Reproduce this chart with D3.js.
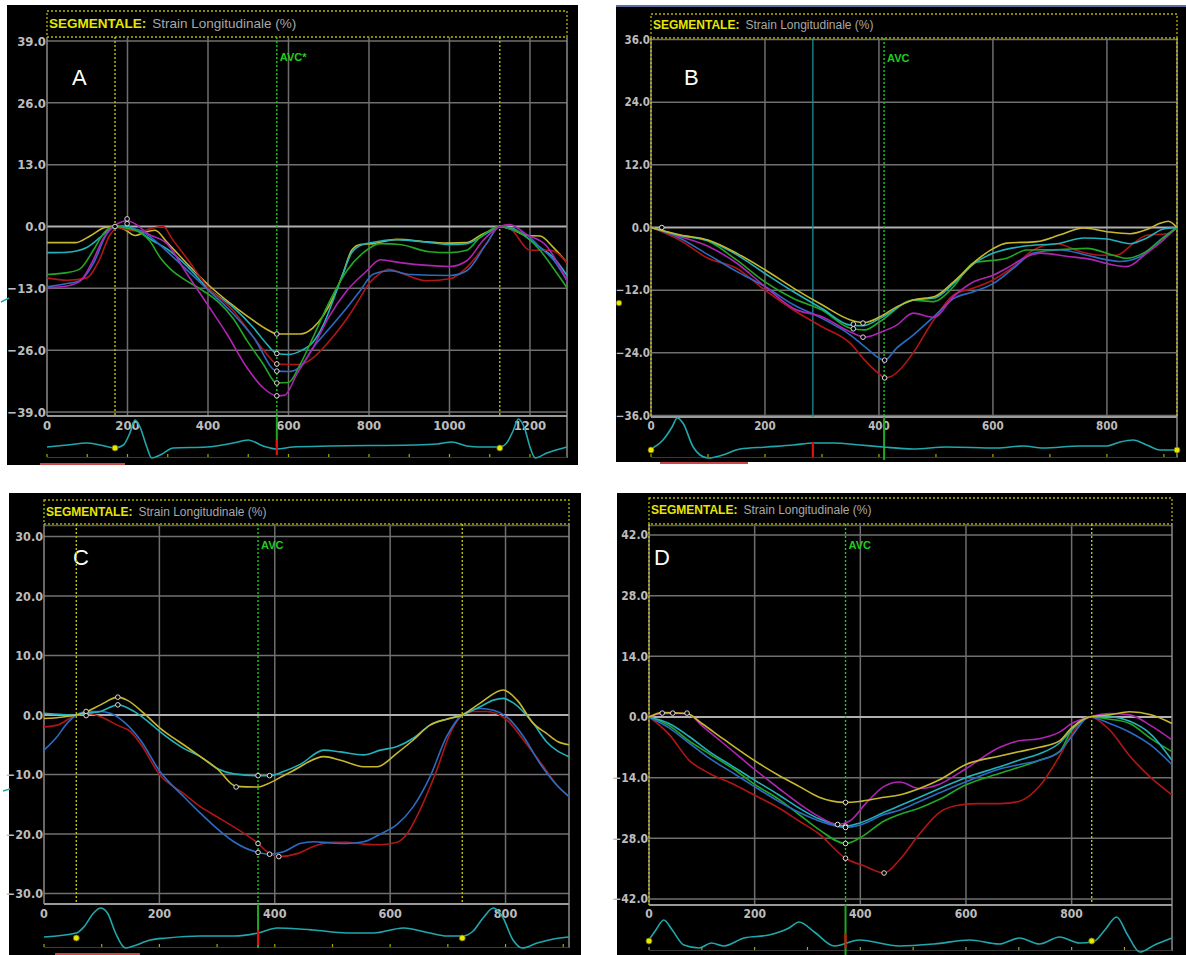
<!DOCTYPE html>
<html>
<head>
<meta charset="utf-8">
<script src="https://cdn.jsdelivr.net/npm/d3@7"></script>
<style>
  html, body { margin: 0; padding: 0; background: #fff; }
  svg { display: block; }
</style>
</head>
<body>
<svg id="chart" width="1186" height="955"></svg>
<script>
// ---------- Panel A: segmental longitudinal strain (%) vs time (ms) ----------
const aXTicks = [0, 200, 400, 600, 800, 1000, 1200];
const aYTicks = [-39, -26, -13, 0, 13, 26, 39];
const aYellow = [[0,-3.4],[70,-3.4],[107,-2],[144,-0.2],[169,0],[194,-0.7],[219,-1.9],[243,-1.2],[268,-0.8],[300,-3.5],[350,-8],[400,-12.2],[450,-15.8],[500,-19],[550,-21.8],[571,-22.6],[629,-22.6],[661,-21.3],[686,-18.8],[711,-15],[735,-10],[757,-5],[778,-3.8],[811,-3.6],[869,-2.7],[944,-3.2],[1001,-3.5],[1043,-3.4],[1076,-1.9],[1109,-0.5],[1125,0],[1159,-0.8],[1192,-1.9],[1225,-2],[1258,-4.4],[1292,-7.6]];
const aCyan = [[0,-5.5],[50,-5.4],[99,-4.4],[132,-2.3],[157,-0.5],[169,0],[199,0],[231,-1.2],[263,-3],[298,-4.7],[350,-8.5],[397,-12.8],[463,-17],[513,-21.3],[546,-24.7],[571,-26.7],[600,-26.9],[629,-26.2],[661,-24.3],[686,-20.8],[711,-15.5],[735,-10],[757,-5.5],[778,-4],[811,-3.3],[869,-2.8],[944,-3.3],[1001,-3.8],[1043,-3.6],[1076,-2.3],[1109,-0.6],[1125,0],[1159,-0.5],[1192,-2.3],[1225,-4.4],[1258,-6.5],[1292,-10.3]];
const aRed = [[0,-10.8],[50,-11.3],[99,-10.8],[130,-7],[155,-2],[175,-0.2],[200,-0.7],[230,-1],[260,-0.4],[289,0],[310,-2.5],[350,-7],[397,-12.5],[463,-17.7],[513,-23.3],[546,-26.8],[571,-28.9],[600,-29],[629,-29],[661,-27.6],[716,-22.6],[753,-18.4],[778,-15],[800,-12],[825,-10],[850,-9],[877,-9.7],[944,-11.4],[1001,-11],[1043,-8.6],[1092,-3.6],[1125,0],[1150,-0.4],[1200,-5],[1250,-5],[1292,-7.6]];
const aBlue = [[0,-12.7],[50,-12],[82,-11.4],[115,-7.8],[149,-1.5],[169,0],[199,-0.3],[231,-0.8],[263,-2.6],[314,-6.5],[397,-13.1],[463,-18.4],[513,-23.3],[571,-30.4],[600,-30.5],[629,-29.5],[661,-25.5],[703,-21.3],[745,-17.1],[778,-13.5],[811,-10],[853,-9.3],[903,-10.1],[1001,-10.3],[1043,-9.3],[1092,-3.6],[1125,0],[1159,-0.8],[1192,-1.7],[1225,-4.4],[1258,-7],[1292,-11.4]];
const aGreen = [[0,-10.1],[50,-9.7],[82,-8.9],[115,-5],[140,-1.5],[155,-0.3],[169,0],[200,-0.4],[231,-1.2],[255,-3],[281,-6.5],[306,-8.9],[339,-11],[380,-13.1],[422,-15.6],[463,-19.4],[497,-24],[537,-28.9],[571,-32.9],[600,-32.8],[629,-29],[661,-23.3],[703,-15.6],[745,-9.3],[786,-5.5],[828,-3.6],[877,-3.8],[950,-5.3],[1001,-5.5],[1043,-5],[1076,-2.3],[1125,0],[1175,-1.3],[1225,-5],[1260,-9],[1292,-12.9]];
const aMagenta = [[0,-12.9],[50,-12.5],[82,-11.5],[115,-7],[140,-2.5],[160,-0.3],[180,0.8],[199,1.2],[220,0.5],[250,-1.5],[298,-3.6],[348,-10],[397,-16.2],[447,-22.6],[497,-29.7],[537,-33.9],[571,-35.6],[590,-35.5],[621,-31],[661,-25.5],[699,-19.2],[745,-13.5],[795,-9.3],[828,-7],[877,-7.6],[1001,-8.4],[1043,-7.2],[1083,-3],[1125,0],[1150,0.4],[1192,-1.7],[1240,-4],[1292,-11.4]];
const aMarkers = [[169,0],[199,1.6],[199,0.6],[571,-22.6],[571,-26.7],[571,-28.9],[571,-30.4],[571,-32.9],[571,-35.6]];
const aEvents = { yellow: [169, 1125], avc: 571, avcLabel: "AVC*", mark: 571 };
const aEcg = [[0,0],[50,0.2],[99,0.4],[132,0.2],[169,-0.1],[190,0.2],[206,1.4],[219,2.7],[231,2.0],[248,0],[260,-1.1],[281,-0.8],[314,-0.1],[397,0],[463,0.4],[500,0.7],[537,0.1],[571,-0.2],[611,0],[703,0.1],[910,0.2],[969,0.3],[1006,0.5],[1043,0.1],[1076,0],[1125,0],[1142,0.4],[1159,1.7],[1171,2.8],[1188,1.7],[1200,0],[1213,-1.1],[1242,-0.6],[1292,0]];

// ---------- Panel B ----------
const bXTicks = [0, 200, 400, 600, 800];
const bYTicks = [-36, -24, -12, 0, 12, 24, 36];
const bYellow = [[0,0],[50,-1.4],[100,-2.4],[150,-4.9],[200,-8.1],[250,-11.6],[300,-14.8],[350,-17.7],[375,-18.2],[402,-17.1],[431,-15.2],[460,-13.9],[498,-13.2],[531,-10.4],[572,-6.2],[601,-4],[624,-3],[677,-2.7],[718,-1.4],[759,-0.1],[800,-0.8],[841,-1.2],[870,-0.4],[893,0.8],[908,1.2],[923,0]];
const bCyan = [[0,0],[50,-1.5],[100,-2.5],[150,-5.2],[200,-8.8],[250,-12.3],[300,-15.5],[350,-18.7],[372,-18.8],[402,-17.4],[460,-13.9],[498,-13.5],[531,-10.7],[572,-6.5],[601,-4.9],[653,-3.6],[718,-3],[759,-2],[800,-2.2],[841,-3.1],[870,-2],[899,-0.3],[923,0]];
const bGreen = [[0,0],[50,-1.5],[100,-2.6],[150,-6.2],[200,-10.4],[250,-13.6],[300,-15.8],[350,-19.3],[375,-19.6],[402,-18],[460,-13.9],[496,-14.2],[531,-11.3],[566,-6.8],[624,-5.9],[659,-4.3],[718,-4.2],[765,-4],[811,-5.3],[835,-5.9],[864,-4.9],[899,-2],[923,0]];
const bMagenta = [[0,0],[50,-1.7],[100,-3.6],[150,-6.8],[200,-11.3],[250,-15.5],[300,-17.1],[350,-20],[375,-21],[402,-20.1],[431,-18.7],[460,-16.4],[496,-17.2],[531,-13.2],[566,-10.4],[601,-9.1],[624,-7.8],[659,-5.6],[683,-4.9],[729,-5.5],[776,-6.2],[800,-6.9],[835,-7.5],[870,-4.9],[899,-2.4],[923,0]];
const bBlue = [[0,0],[50,-2],[100,-5.2],[150,-8.4],[200,-11.3],[250,-14.8],[300,-17.4],[350,-20.6],[375,-22.8],[410,-25.4],[431,-23.1],[460,-20.6],[496,-17.1],[531,-13.6],[566,-12.3],[601,-10.7],[636,-7.8],[671,-4.9],[718,-4.3],[765,-5.3],[800,-6.2],[823,-6.5],[858,-5.6],[893,-2.4],[923,0]];
const bRed = [[0,0],[50,-2.4],[100,-5.9],[150,-7.8],[200,-12],[250,-15.8],[300,-19],[350,-22.2],[375,-25.4],[400,-28],[410,-28.8],[420,-28.6],[437,-27.2],[460,-24],[496,-17.7],[531,-12.9],[566,-11.6],[601,-10],[636,-7.5],[671,-4.3],[712,-3.1],[753,-4.6],[788,-5.3],[817,-5.3],[846,-3.1],[870,-1.5],[905,-1.2],[923,0]];
const bMarkers = [[19,0],[355,-19.4],[355,-18.5],[372,-18.3],[372,-21],[410,-25.4],[410,-28.8]];
const bEvents = { yellow: [0, 923], avc: 409, avcLabel: "AVC", mark: 284, teal: 284 };
const bEcg = [[0,0],[21,0.9],[37,2.2],[46,3.1],[56,2.6],[74,0.2],[86,-0.6],[100,-0.9],[126,-0.6],[156,0],[203,0.2],[250,0.4],[285,0.6],[320,0.6],[367,0.4],[407,0.2],[460,0],[519,0.2],[607,0.1],[653,0.3],[688,0.1],[753,0.3],[800,0.3],[823,0.7],[846,0.9],[870,0.4],[893,-0.1],[923,-0.1]];

// ---------- Panel C ----------
const cXTicks = [0, 200, 400, 600, 800];
const cYTicks = [-30, -20, -10, 0, 10, 20, 30];
const cYellow = [[0,-0.6],[56,0],[75,0.6],[98,1.7],[128,3.0],[144,2.5],[173,0.3],[201,-2.2],[225,-3.9],[242,-5],[271,-7],[300,-9],[333,-12],[371,-12.1],[387,-11.6],[415,-10.2],[444,-8.7],[456,-8],[485,-7],[514,-7.6],[554,-8.7],[577,-8.7],[612,-6.4],[640,-4.2],[669,-1.7],[698,-0.7],[725,0],[756,2],[796,4.2],[820,2.5],[848,-1.4],[871,-3.1],[891,-4.5],[910,-5]];
const cCyan = [[0,0.3],[56,0],[75,0.3],[98,0.6],[128,1.7],[156,0.6],[184,-1.4],[201,-2.8],[242,-5.6],[271,-7],[300,-9],[329,-9.9],[371,-10.2],[391,-10.2],[415,-9.5],[444,-8.3],[485,-5.9],[514,-6.2],[554,-6.7],[583,-5.9],[612,-5.3],[640,-3.9],[669,-1.7],[698,-0.7],[725,0],[756,1.4],[779,2.5],[796,2.8],[814,2],[848,-1.4],[871,-4.5],[910,-7]];
const cRed = [[0,-2],[23,-1.7],[56,0],[75,0.3],[98,-0.3],[127,-1.7],[150,-2.8],[167,-4.8],[201,-10.1],[242,-13.2],[271,-15.4],[300,-17.1],[329,-18.8],[371,-21.6],[387,-23],[407,-23.8],[439,-23.3],[467,-22.1],[496,-21.4],[525,-21.4],[554,-21.7],[583,-21.8],[612,-21.4],[629,-20],[652,-15.9],[681,-9.2],[704,-3.1],[725,0],[744,0.6],[767,0.6],[802,-0.8],[831,-4.2],[866,-8.7],[889,-11.8],[910,-13.7]];
const cBlue = [[0,-5.9],[23,-3.6],[40,-1.4],[56,0],[75,0.6],[98,0.6],[115,0.3],[138,-1.1],[167,-4.2],[201,-9.5],[242,-13.7],[271,-16.5],[300,-19.1],[329,-21.3],[371,-23.1],[391,-23.4],[415,-23],[444,-21.6],[467,-21.3],[496,-21.5],[525,-21.6],[554,-21.3],[583,-20],[612,-18.4],[640,-15.4],[669,-10.4],[698,-3.6],[725,0],[756,1.1],[779,0.8],[802,-0.3],[831,-3.6],[860,-8.2],[889,-11.8],[910,-13.7]];
const cMarkers = [[73,0.6],[73,-0.1],[128,3.0],[128,1.7],[333,-12.1],[371,-10.2],[391,-10.2],[371,-21.6],[371,-23.1],[391,-23.4],[407,-23.8]];
const cEvents = { yellow: [56, 725], avc: 371, avcLabel: "AVC", mark: 371 };
const cEcg = [[0,0],[56,0.4],[69,1],[86,2.4],[98,2.9],[110,2.4],[124,0.4],[141,-1.1],[155,-0.9],[184,-0.3],[213,-0.1],[271,0.1],[329,0.1],[371,0.4],[404,0.9],[444,0.8],[467,0.7],[525,0.4],[571,0.4],[623,0.9],[669,0.4],[698,0.1],[725,0.1],[744,0.6],[761,1.9],[779,2.9],[794,2.1],[813,-0.3],[829,-1.1],[855,-0.6],[883,-0.2],[910,0]];

// ---------- Panel D ----------
const dXTicks = [0, 200, 400, 600, 800];
const dYTicks = [-42, -28, -14, 0, 14, 28, 42];
const dYellow = [[0,0],[25,1],[72,0.8],[100,-1.5],[140,-5],[199,-10],[246,-13.5],[284,-16],[322,-18.5],[372,-19.7],[398,-19.5],[445,-18.5],[474,-18],[512,-16.5],[550,-14.5],[599,-11],[664,-9],[700,-8],[739,-7],[777,-5.5],[800,-2.5],[834,0],[872,0.5],[910,1.2],[950,0.5],[990,-1.5]];
const dCyan = [[0,0],[38,-1.5],[76,-4.5],[114,-8],[160,-11.5],[199,-14.5],[246,-18],[284,-21],[322,-23.5],[372,-25.2],[398,-24.5],[445,-22],[474,-20.5],[512,-18.5],[550,-16.5],[599,-14],[664,-11.5],[700,-10],[739,-8.5],[777,-6],[800,-3],[834,0],[872,0],[910,-1],[950,-4],[990,-10]];
const dRed = [[0,0],[38,-4],[76,-10],[114,-13],[160,-15.5],[199,-18],[246,-21],[284,-24],[322,-27],[372,-32.6],[410,-34.5],[445,-36],[474,-33],[512,-27],[550,-22],[580,-20.5],[620,-20],[664,-20],[700,-19.5],[739,-16],[777,-9],[800,-4],[834,0],[872,-3],[910,-9],[950,-14],[990,-18]];
const dBlue = [[0,0],[38,-2.5],[76,-6],[114,-9.5],[160,-13],[199,-16],[246,-19.5],[284,-22],[322,-24],[372,-25.5],[398,-25],[445,-22.5],[474,-21.5],[512,-19.5],[550,-17.5],[599,-15],[664,-12],[700,-11],[739,-10],[777,-8],[800,-4.5],[834,0],[872,-1.5],[910,-3.5],[950,-6.5],[990,-11]];
const dGreen = [[0,0],[38,-2],[76,-5.5],[114,-8.5],[160,-12],[199,-15.5],[246,-19],[284,-22.5],[322,-26],[372,-29.2],[398,-28],[445,-24],[474,-22.5],[512,-21],[550,-19],[599,-15.7],[664,-13],[739,-10],[777,-8],[800,-3],[834,0],[872,-0.5],[910,-1.5],[950,-5],[990,-8]];
const dMagenta = [[0,0],[25,0.8],[72,0.8],[100,-2],[140,-6],[199,-12],[246,-16.5],[284,-20],[322,-23],[357,-24.8],[380,-24],[410,-20],[445,-16],[474,-15],[512,-16.5],[550,-15.5],[599,-12],[664,-7],[700,-5.5],[739,-5],[777,-3.5],[800,-1.5],[834,0],[872,0.8],[910,0.5],[950,-2],[990,-5.3]];
const dMarkers = [[25,0.9],[45,0.9],[72,0.9],[372,-19.7],[357,-24.8],[372,-25.2],[372,-25.5],[372,-29.2],[372,-32.6],[445,-36]];
const dEvents = { yellow: [0, 838], avc: 372, avcLabel: "AVC", mark: 372 };
const dEcg = [[0,0],[13,1],[28,2],[44,1],[66,-0.5],[95,-0.8],[118,-0.3],[142,-0.6],[180,0.2],[227,0.5],[265,1.2],[284,1.8],[313,0.8],[351,-0.6],[398,0],[474,-0.6],[540,-0.4],[607,0],[663,-0.4],[701,0.2],[739,-0.4],[777,0.3],[815,-0.3],[840,-0.2],[863,1],[885,2.3],[906,0.5],[929,-1.2],[957,-0.5],[990,0.2]];

// ---------- styling ----------
const SEG = { yellow: "#c6b82c", cyan: "#22b2ba", red: "#b01616", blue: "#2a6cc4", green: "#22a824", magenta: "#b024b4" };
const TICK_FONT = "'Liberation Sans Narrow','DejaVu Sans Condensed','Liberation Sans',sans-serif";
const TEXT_FONT = "'Liberation Sans',Arial,sans-serif";

const svg = d3.select("#chart");
svg.append("rect").attr("width", 1186).attr("height", 955).attr("fill", "#fff");

function drawPanel(p) {
  const g = svg.append("g");
  const x = d3.scaleLinear().domain([0, p.xMax]).range([p.left, p.right]);
  const y = d3.scaleLinear().domain([-p.yMax, p.yMax]).range([p.yBot, p.yTop]);
  const ecgY = d3.scaleLinear().domain([0, 1]).range([p.ecgBase, p.ecgBase - 10]);

  g.append("rect").attr("x", p.box[0]).attr("y", p.box[1]).attr("width", p.box[2]).attr("height", p.box[3]).attr("fill", "#000");
  if (p.topLine) g.append("rect").attr("x", p.box[0]).attr("y", p.box[1]).attr("width", p.box[2]).attr("height", 2).attr("fill", p.topLine);

  // header box
  g.append("rect").attr("x", p.left).attr("y", p.headTop).attr("width", p.right - p.left).attr("height", p.headBot - p.headTop)
    .attr("fill", "none").attr("stroke", "#b4b400").attr("stroke-width", 1.3).attr("stroke-dasharray", "2,2");
  const ht = g.append("text").attr("x", p.left + 2).attr("y", p.headBase).attr("font-family", TEXT_FONT).attr("font-size", p.headSize);
  ht.append("tspan").attr("fill", "#e6e600").attr("font-weight", "bold").text("SEGMENTALE:");
  ht.append("tspan").attr("fill", "#a8a8a8").attr("dx", 6).text("Strain Longitudinale (%)");

  // grid
  g.selectAll(".vg").data(p.xTicks.filter(t => t > 0)).join("line")
    .attr("x1", d => x(d)).attr("x2", d => x(d)).attr("y1", p.headBot).attr("y2", p.axisY)
    .attr("stroke", "#6e6e6e").attr("stroke-width", 1.5);
  g.selectAll(".hg").data(p.yTicks).join("line")
    .attr("x1", p.left).attr("x2", p.right).attr("y1", d => y(d)).attr("y2", d => y(d))
    .attr("stroke", d => d === 0 ? "#b0b0b0" : "#707070").attr("stroke-width", d => d === 0 ? 2 : 1.5);
  if (p.plotTopLine) g.append("line").attr("x1", p.left).attr("x2", p.right).attr("y1", p.headBot + 1.5).attr("y2", p.headBot + 1.5).attr("stroke", "#5a5a5a").attr("stroke-width", 1.5);
  // frame
  g.append("line").attr("x1", p.left).attr("x2", p.left).attr("y1", p.headBot).attr("y2", p.axisY).attr("stroke", "#8a8a8a").attr("stroke-width", 1.5);
  g.append("line").attr("x1", p.right).attr("x2", p.right).attr("y1", p.headBot).attr("y2", p.ecgTickY + 1).attr("stroke", "#8a8a8a").attr("stroke-width", 1.5);
  g.append("line").attr("x1", p.left).attr("x2", p.right).attr("y1", p.axisY).attr("y2", p.axisY).attr("stroke", "#9a9a9a").attr("stroke-width", 2);

  // tick labels
  g.selectAll(".yl").data(p.yTicks).join("text")
    .attr("x", p.left - 1).attr("y", d => y(d)).attr("dy", "0.36em").attr("text-anchor", "end")
    .attr("font-family", TICK_FONT).attr("font-weight", "bold").attr("font-size", p.tickSize).attr("fill", "#bcbcbc")
    .text(d => d3.format(".1f")(d));
  g.selectAll(".xl").data(p.xTicks).join("text")
    .attr("x", d => x(d)).attr("y", p.axisY + 9).attr("dy", "0.36em").attr("text-anchor", "middle")
    .attr("font-family", TICK_FONT).attr("font-weight", "bold").attr("font-size", p.tickSize).attr("fill", "#bcbcbc")
    .text(d => d);

  // panel letter
  g.append("text").attr("x", p.letterX).attr("y", p.letterY).attr("font-family", TEXT_FONT).attr("font-size", 22).attr("fill", "#fff").text(p.letter);

  // event lines
  const ev = p.events;
  if (ev.teal !== undefined) g.append("line").attr("x1", x(ev.teal)).attr("x2", x(ev.teal)).attr("y1", p.headBot).attr("y2", p.axisY).attr("stroke", "#1c8c92").attr("stroke-width", 1.3);
  g.selectAll(".ye").data(ev.yellow).join("line")
    .attr("x1", d => x(d)).attr("x2", d => x(d)).attr("y1", p.headBot).attr("y2", p.axisY)
    .attr("stroke", "#c0c000").attr("stroke-width", 1.4).attr("stroke-dasharray", "2,2");
  g.append("line").attr("x1", x(ev.avc)).attr("x2", x(ev.avc)).attr("y1", p.headBot).attr("y2", p.axisY)
    .attr("stroke", "#1ec81e").attr("stroke-width", 1.4).attr("stroke-dasharray", "2,2");
  g.append("text").attr("x", x(ev.avc) + 3).attr("y", p.avcY).attr("font-family", TEXT_FONT).attr("font-weight", "bold")
    .attr("font-size", 11).attr("fill", "#20cc20").text(ev.avcLabel);

  // strain curves
  const clipId = "clip" + p.letter;
  svg.append("clipPath").attr("id", clipId).append("rect")
    .attr("x", p.left).attr("y", p.headBot).attr("width", p.right - p.left + 1).attr("height", p.axisY - p.headBot);
  const line = d3.line().x(d => x(d[0])).y(d => y(d[1])).curve(d3.curveMonotoneX);
  const cg = g.append("g").attr("clip-path", `url(#${clipId})`);
  p.curves.forEach(c => {
    cg.append("path").datum(c.data).attr("d", line).attr("fill", "none").attr("stroke", SEG[c.color]).attr("stroke-width", 1.6);
  });
  cg.selectAll(".mk").data(p.markers).join("circle")
    .attr("cx", d => x(d[0])).attr("cy", d => y(d[1])).attr("r", 2.3)
    .attr("fill", "#000").attr("stroke", "#dcdcdc").attr("stroke-width", 1);

  // ECG strip
  const ticks = d3.range(0, p.xMax + 1, 100);
  g.selectAll(".et").data(ticks).join("line")
    .attr("x1", d => x(d)).attr("x2", d => x(d)).attr("y1", p.ecgTickY - 3).attr("y2", p.ecgTickY)
    .attr("stroke", "#a8a800").attr("stroke-width", 1.2);
  g.append("line").attr("x1", p.left).attr("x2", p.right).attr("y1", p.ecgTickY + 0.5).attr("y2", p.ecgTickY + 0.5).attr("stroke", "#3a3a3a").attr("stroke-width", 1);
  g.append("line").attr("x1", x(ev.avc)).attr("x2", x(ev.avc)).attr("y1", p.axisY).attr("y2", p.ecgGreenEnd)
    .attr("stroke", "#1eaa1e").attr("stroke-width", 2);
  const ecgLine = d3.line().x(d => x(d[0])).y(d => ecgY(d[1])).curve(d3.curveMonotoneX);
  g.append("path").datum(p.ecg).attr("d", ecgLine).attr("fill", "none").attr("stroke", "#1fa8ae").attr("stroke-width", 1.6);
  g.append("line").attr("x1", x(ev.mark)).attr("x2", x(ev.mark)).attr("y1", p.ecgBase - 7).attr("y2", p.ecgBase + 8)
    .attr("stroke", "#e01010").attr("stroke-width", 2.2);
  g.selectAll(".ed").data(ev.yellow).join("circle")
    .attr("cx", d => x(d)).attr("cy", d => ecgY(0) + 1).attr("r", 3)
    .attr("fill", "#e8e800").attr("stroke", "#6a6a00").attr("stroke-width", 0.8);

  if (p.redBar) g.append("rect").attr("x", p.redBar[0]).attr("y", p.redBar[1]).attr("width", p.redBar[2]).attr("height", 2).attr("fill", "#c84848");
}

const panels = [
  { letter: "A", box: [7, 5, 571, 460], left: 47, right: 567, xMax: 1292, yMax: 39, yTop: 41, yBot: 412,
    headTop: 11, headBot: 37, headBase: 28, headSize: 13.5, axisY: 416, tickSize: 13, letterX: 72, letterY: 85, avcY: 61,
    ecgBase: 447, ecgTickY: 457, ecgGreenEnd: 446, redBar: [40, 463, 85], plotTopLine: false,
    xTicks: aXTicks, yTicks: aYTicks, events: aEvents, markers: aMarkers, ecg: aEcg,
    curves: [{color:"yellow",data:aYellow},{color:"cyan",data:aCyan},{color:"red",data:aRed},{color:"blue",data:aBlue},{color:"green",data:aGreen},{color:"magenta",data:aMagenta}] },
  { letter: "B", box: [616, 5, 570, 457], left: 651, right: 1177, xMax: 923, yMax: 36, yTop: 39.5, yBot: 415.5,
    headTop: 14, headBot: 38, headBase: 29, headSize: 12, axisY: 417, tickSize: 11.5, letterX: 684, letterY: 85, avcY: 62,
    ecgBase: 449, ecgTickY: 457, ecgGreenEnd: 460, redBar: [660, 462, 88], topLine: "#5a6fa0",
    xTicks: bXTicks, yTicks: bYTicks, events: bEvents, markers: bMarkers, ecg: bEcg,
    curves: [{color:"red",data:bRed},{color:"blue",data:bBlue},{color:"magenta",data:bMagenta},{color:"green",data:bGreen},{color:"cyan",data:bCyan},{color:"yellow",data:bYellow}] },
  { letter: "C", box: [9, 493, 572, 462], left: 44, right: 569, xMax: 910, yMax: 30, yTop: 536.5, yBot: 893.5,
    headTop: 500, headBot: 524, headBase: 516, headSize: 12, axisY: 904, tickSize: 12.5, letterX: 73, letterY: 565, avcY: 549,
    ecgBase: 937, ecgTickY: 947, ecgGreenEnd: 948, redBar: [55, 953, 85], plotTopLine: true,
    xTicks: cXTicks, yTicks: cYTicks, events: cEvents, markers: cMarkers, ecg: cEcg,
    curves: [{color:"red",data:cRed},{color:"blue",data:cBlue},{color:"cyan",data:cCyan},{color:"yellow",data:cYellow}] },
  { letter: "D", box: [617, 493, 569, 462], left: 649, right: 1172, xMax: 990, yMax: 42, yTop: 535, yBot: 899,
    headTop: 498, headBot: 524, headBase: 514, headSize: 12, axisY: 905, tickSize: 12, letterX: 654, letterY: 565, avcY: 549,
    ecgBase: 940, ecgTickY: 950, ecgGreenEnd: 955, plotTopLine: true,
    xTicks: dXTicks, yTicks: dYTicks, events: dEvents, markers: dMarkers, ecg: dEcg,
    curves: [{color:"red",data:dRed},{color:"green",data:dGreen},{color:"blue",data:dBlue},{color:"cyan",data:dCyan},{color:"magenta",data:dMagenta},{color:"yellow",data:dYellow}] }
];

panels.forEach(drawPanel);

// small side markers outside the panels
svg.append("line").attr("x1", 1).attr("x2", 9).attr("y1", 302).attr("y2", 298).attr("stroke", "#1fa8ae").attr("stroke-width", 1.5);
svg.append("line").attr("x1", 3).attr("x2", 10).attr("y1", 791).attr("y2", 789).attr("stroke", "#1fa8ae").attr("stroke-width", 1.5);
svg.append("circle").attr("cx", 619).attr("cy", 303).attr("r", 2.8).attr("fill", "#e8e800").attr("stroke", "#6a6a00").attr("stroke-width", 0.8);
</script>
</body>
</html>
